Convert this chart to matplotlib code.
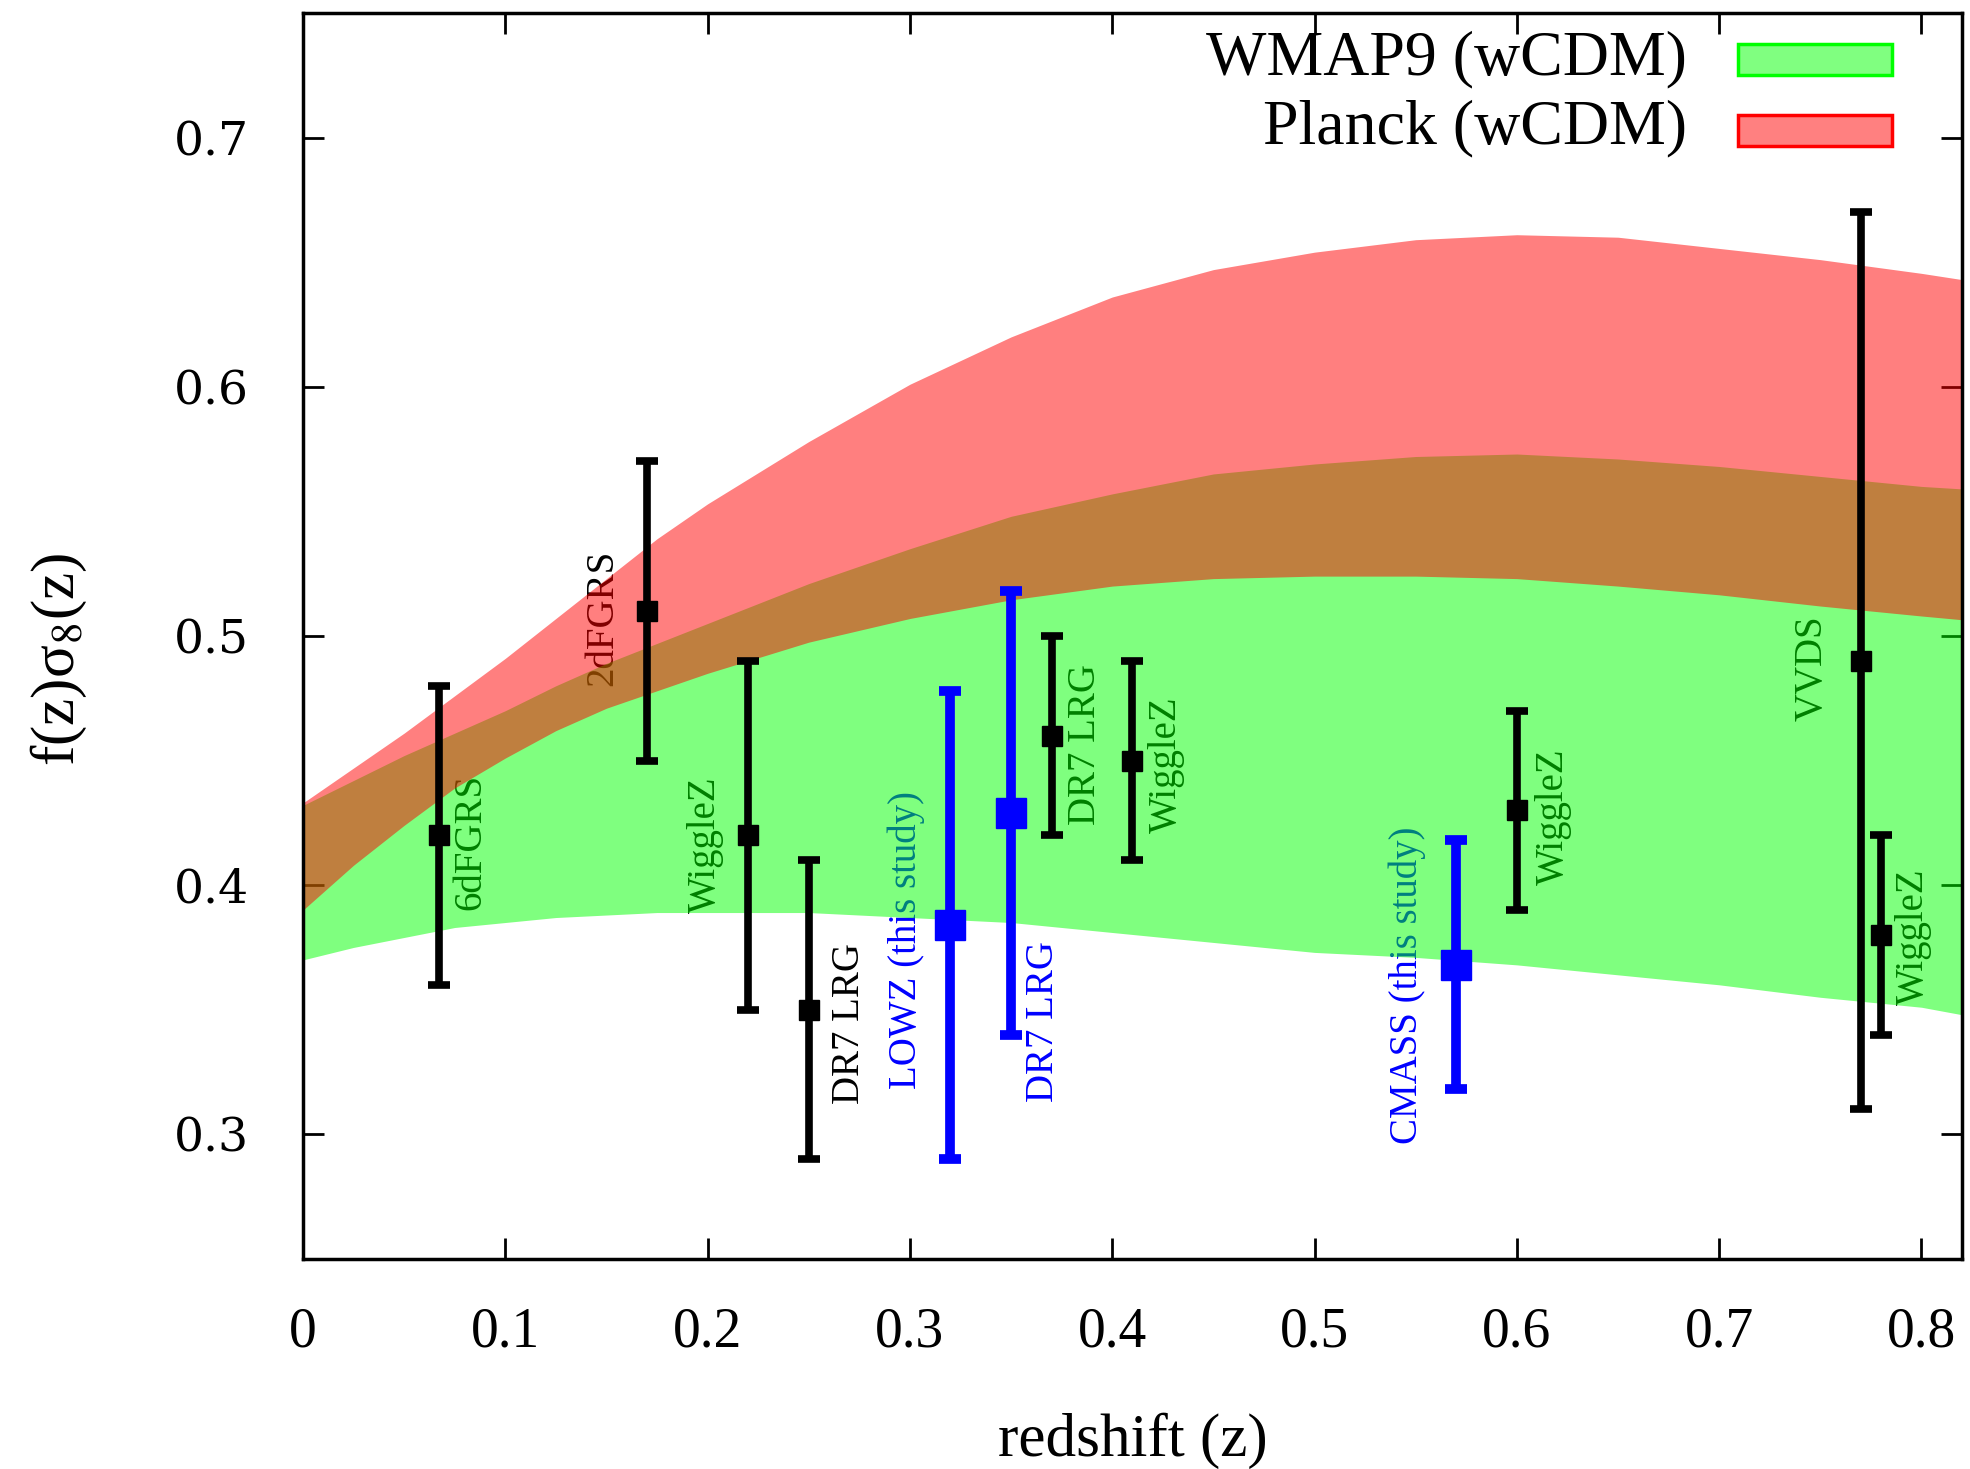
import numpy as np
import matplotlib.pyplot as plt
from matplotlib.patches import Rectangle

plt.rcParams['font.family'] = ['Liberation Serif', 'DejaVu Serif']
plt.rcParams['mathtext.fontset'] = 'stix'

# f(z)*sigma8(z) model bands (wCDM)
z_band = [0.0, 0.025, 0.05, 0.075, 0.1, 0.125, 0.15, 0.175, 0.2, 0.25, 0.3,
          0.35, 0.4, 0.45, 0.5, 0.55, 0.6, 0.65, 0.7, 0.75, 0.8, 0.82]
wmap9_lo = [0.370, 0.375, 0.379, 0.383, 0.385, 0.387, 0.388, 0.389, 0.389, 0.389, 0.387,
            0.385, 0.381, 0.377, 0.373, 0.371, 0.368, 0.364, 0.360, 0.355, 0.351, 0.348]
wmap9_hi = [0.432, 0.442, 0.452, 0.461, 0.470, 0.480, 0.489, 0.497, 0.505, 0.521, 0.535,
            0.548, 0.557, 0.565, 0.569, 0.572, 0.573, 0.571, 0.568, 0.564, 0.560, 0.559]
planck_lo = [0.390, 0.408, 0.424, 0.439, 0.451, 0.462, 0.471, 0.478, 0.485, 0.4975, 0.507,
             0.5145, 0.520, 0.523, 0.524, 0.524, 0.523, 0.520, 0.5165, 0.512, 0.508, 0.5065]
planck_hi = [0.433, 0.447, 0.461, 0.476, 0.491, 0.507, 0.523, 0.539, 0.553, 0.578, 0.601,
             0.620, 0.636, 0.647, 0.654, 0.659, 0.661, 0.660, 0.6555, 0.651, 0.6455, 0.643]

# published measurements
z_other = [0.067, 0.17, 0.22, 0.25, 0.37, 0.41, 0.60, 0.77, 0.78]
fs8_other = [0.42, 0.51, 0.42, 0.35, 0.46, 0.45, 0.43, 0.49, 0.38]
err_other = [0.06, 0.06, 0.07, 0.06, 0.04, 0.04, 0.04, 0.18, 0.04]

# this study
z_ours = [0.32, 0.35, 0.57]
fs8_ours = [0.384, 0.429, 0.368]
err_ours = [0.094, 0.089, 0.05]

survey_names = ['6dFGRS', '2dFGRS', 'WiggleZ', 'DR7 LRG', 'LOWZ (this study)', 'DR7 LRG',
                'DR7 LRG', 'WiggleZ', 'CMASS (this study)', 'WiggleZ', 'VVDS', 'WiggleZ']

# where each survey name sits (z, lower end of the rotated text), and its colour
name_pos = [(0.083, 0.390), (0.148, 0.480), (0.199, 0.389), (0.270, 0.312),
            (0.298, 0.318), (0.366, 0.313), (0.387, 0.424), (0.427, 0.421),
            (0.546, 0.296), (0.618, 0.400), (0.746, 0.466), (0.796, 0.352)]
name_col = ['k', 'k', 'k', 'k', 'b', 'b', 'k', 'k', 'b', 'k', 'k', 'k']

fig = plt.figure(figsize=(19.7, 14.69), dpi=100)
fig.subplots_adjust(left=0.1538, right=0.9959, bottom=0.143, top=0.9912)
ax = fig.add_subplot(111)
ax.set_axisbelow(True)

# names go under the bands so the fills tint them
for name, (zx, yb), c in zip(survey_names, name_pos, name_col):
    ax.text(zx, yb, name, rotation=90, ha='center', va='bottom',
            fontsize=28, color=c, zorder=0.8)

ax.fill_between(z_band, wmap9_lo, wmap9_hi, color=(0, 1, 0), alpha=0.5, lw=0, zorder=1)
ax.fill_between(z_band, planck_lo, planck_hi, color=(1, 0, 0), alpha=0.5, lw=0, zorder=1.1)

ax.errorbar(z_other, fs8_other, yerr=err_other, fmt='s', color='k', ms=15,
            lw=5.5, capsize=8, capthick=5.5, zorder=3)
ax.errorbar(z_ours, fs8_ours, yerr=err_ours, fmt='s', color=(0, 0, 1), ms=21,
            lw=7, capsize=8, capthick=7, zorder=3)

ax.set_xlim(0, 0.82)
ax.set_ylim(0.25, 0.75)
xt = [0, 0.1, 0.2, 0.3, 0.4, 0.5, 0.6, 0.7, 0.8]
ax.set_xticks(xt)
ax.set_xticklabels(['0'] + ['%.1f' % v for v in xt[1:]], fontsize=40)
yt = [0.3, 0.4, 0.5, 0.6, 0.7]
ax.set_yticks(yt)
ax.set_yticklabels(['%.1f' % v for v in yt], fontsize=34, family='DejaVu Serif')
ax.tick_params(axis='x', direction='in', top=True, length=15, width=2, pad=34)
ax.tick_params(axis='y', direction='in', right=True, length=15, width=2, pad=39)
for s in ax.spines.values():
    s.set_linewidth(2.5)

ax.set_xlabel('redshift (z)', fontsize=44)
ax.xaxis.set_label_coords(0.5, -0.123)
ax.set_ylabel('f(z)σ$_8$(z)', fontsize=44)
ax.yaxis.set_label_coords(-0.129, 0.481)

# key in the upper right
ax.text(0.834, 0.963, 'WMAP9 (wCDM)', transform=ax.transAxes, ha='right', va='center', fontsize=46)
ax.add_patch(Rectangle((0.865, 0.950), 0.093, 0.025, transform=ax.transAxes,
                       facecolor=(0.5, 1, 0.5), edgecolor=(0, 1, 0), lw=2.5, zorder=4))
ax.text(0.834, 0.907, 'Planck (wCDM)', transform=ax.transAxes, ha='right', va='center', fontsize=46)
ax.add_patch(Rectangle((0.865, 0.893), 0.093, 0.025, transform=ax.transAxes,
                       facecolor=(1, 0.5, 0.5), edgecolor=(1, 0, 0), lw=2.5, zorder=4))

fig.savefig('out.png', dpi=100)
